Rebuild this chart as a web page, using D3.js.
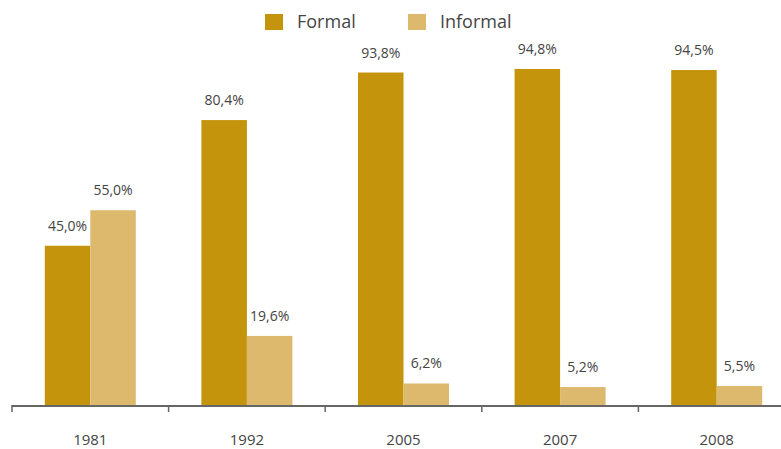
<!DOCTYPE html>
<html><head><meta charset="utf-8">
<script src="https://cdn.jsdelivr.net/npm/d3@7"></script>
<style>body{margin:0;background:#fff}svg{display:block}text{font-family:"Open Sans","Noto Sans",sans-serif;fill:#444}</style>
</head><body><svg id="c" width="781" height="449"></svg>
<script>
const years = ["1981","1992","2005","2007","2008"];
const formal = [45.0, 80.4, 93.8, 94.8, 94.5];
const informal = [55.0, 19.6, 6.2, 5.2, 5.5];
const seriesNames = ["Formal","Informal"];
const colors = ["#C4940C","#DDB96E"];

const svg = d3.select("#c");
const x = d3.scaleBand().domain(years).range([12, 795]).paddingInner(0).paddingOuter(0);
const sub = d3.scaleBand().domain(seriesNames).range([0, 91]);
const y = d3.scaleLinear().domain([0, 100]).range([405.5, 50.5]);
const fmt = v => v.toFixed(1).replace(".", ",") + "%";

const data = years.map((yr, i) => ({year: yr, vals: [formal[i], informal[i]]}));
const g = svg.append("g");
data.forEach(d => {
  const x0 = x(d.year) + (x.bandwidth() - 91) / 2;
  d.vals.forEach((v, j) => {
    const bx = x0 + sub(seriesNames[j]);
    g.append("rect").attr("x", bx).attr("y", y(v)).attr("width", sub.bandwidth())
      .attr("height", y(0) - y(v)).attr("fill", colors[j]);
    g.append("text").attr("x", bx + sub.bandwidth()/2).attr("y", y(v) - 15)
      .attr("text-anchor", "middle").attr("font-size", 14).text(fmt(v));
  });
});

// axis
const ax = svg.append("g");
ax.append("line").attr("x1", 12).attr("x2", 781).attr("y1", 406).attr("y2", 406)
  .attr("stroke", "#666").attr("stroke-width", 2);
years.forEach(yr => {
  ax.append("line").attr("x1", x(yr)).attr("x2", x(yr)).attr("y1", 405).attr("y2", 412)
    .attr("stroke", "#666").attr("stroke-width", 1.5);
  ax.append("text").attr("x", x(yr) + x.bandwidth()/2).attr("y", 445)
    .attr("text-anchor", "middle").attr("font-size", 15).text(yr);
});

// legend
const legX = [265, 408];
seriesNames.forEach((n, i) => {
  svg.append("rect").attr("x", legX[i]).attr("y", 14).attr("width", 18).attr("height", 16).attr("fill", colors[i]);
  svg.append("text").attr("x", legX[i] + 32).attr("y", 28).attr("font-size", 18).text(n);
});
</script></body></html>
